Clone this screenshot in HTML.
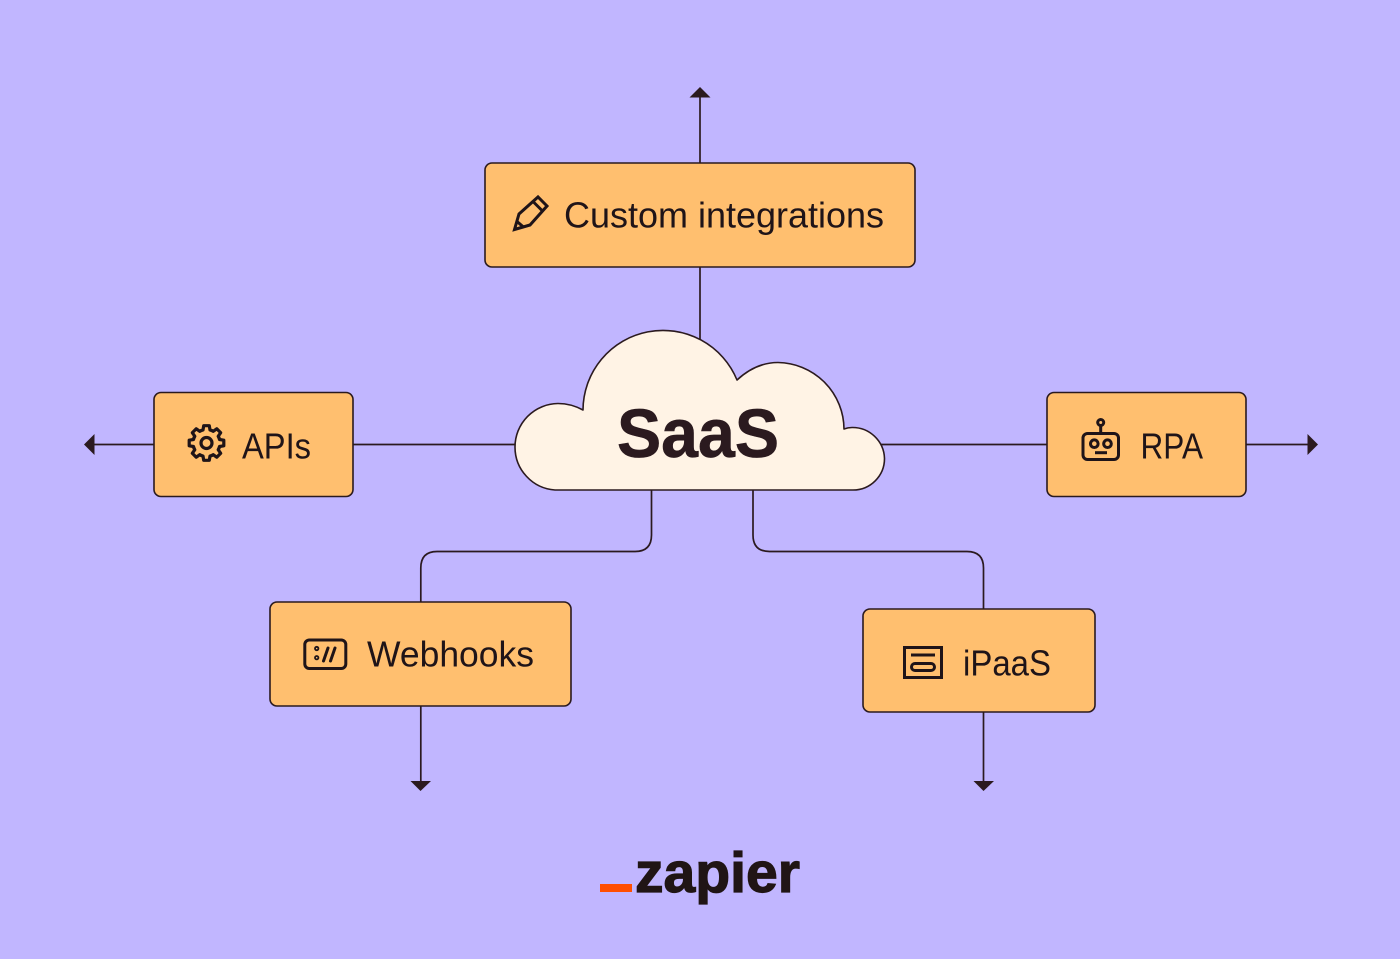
<!DOCTYPE html>
<html>
<head>
<meta charset="utf-8">
<style>
html,body{margin:0;padding:0;background:#c1b6ff;}
svg{display:block;}
text{font-family:"Liberation Sans",sans-serif;fill:#1f1418;}
</style>
</head>
<body>
<svg width="1400" height="959" viewBox="0 0 1400 959" xmlns="http://www.w3.org/2000/svg">
<rect width="1400" height="959" fill="#c1b6ff"/>

<!-- connectors -->
<g fill="none" stroke="#2b1a1f" stroke-width="1.7">
<path d="M700 95V345"/>
<path d="M93 444.5H520"/>
<path d="M880 444.5H1309"/>
<path d="M651.5 488V535Q651.5 551.5 635 551.5H437Q420.8 551.5 420.8 568V783"/>
<path d="M753 488V535Q753 551.5 769.5 551.5H967Q983.5 551.5 983.5 568V783"/>
</g>

<!-- arrowheads -->
<g fill="#2b1a1f">
<path d="M700 87L710.5 97.500H689.500Z"/>
<path d="M84 444.500L94.500 434V455Z"/>
<path d="M1318 444.500L1307.500 434V455Z"/>
<path d="M420.500 791L410.500 781H431Z"/>
<path d="M983.500 791L973.500 781H994Z"/>
</g>

<!-- boxes -->
<g fill="#ffbf6f" stroke="#2b1a1f" stroke-width="1.600">
<rect x="485" y="163" width="430" height="104" rx="7"/>
<rect x="154" y="392.500" width="199" height="104" rx="7"/>
<rect x="1047" y="392.500" width="199" height="104" rx="7"/>
<rect x="270" y="602" width="301" height="104" rx="7"/>
<rect x="863" y="609" width="232" height="103" rx="7"/>
</g>

<!-- cloud -->
<path d="M555 490H853A31.500 31.500 0 0 0 884.500 458.500A32 32 0 0 0 852 427.500Q848 427.500 844 429A67 67 0 0 0 778 362.500Q756 362.500 737 380A80 80 0 0 0 583 410Q571 403.500 558 403.500A43.500 43.500 0 0 0 515 447A43 43 0 0 0 555 490Z" fill="#fff3e5" stroke="#2b1a1f" stroke-width="1.600" stroke-linejoin="round"/>

<!-- labels -->
<text x="617" y="457" font-size="69" font-weight="700" textLength="162" lengthAdjust="spacingAndGlyphs" style="fill:#2b1a1f;stroke:#2b1a1f;stroke-width:0.700">SaaS</text>
<text x="564" y="227.500" font-size="36" textLength="320" lengthAdjust="spacingAndGlyphs">Custom integrations</text>
<text x="242" y="458.500" font-size="36" textLength="69" lengthAdjust="spacingAndGlyphs">APIs</text>
<text x="1140.500" y="458.500" font-size="36" textLength="62.500" lengthAdjust="spacingAndGlyphs">RPA</text>
<text x="367" y="666.500" font-size="36" textLength="167" lengthAdjust="spacingAndGlyphs">Webhooks</text>
<text x="963" y="675.500" font-size="36" textLength="88" lengthAdjust="spacingAndGlyphs">iPaaS</text>

<!-- pencil icon -->
<g fill="none" stroke="#1f1418" stroke-width="3" stroke-linejoin="miter">
<path d="M514.500 229.500L519 214L538 197L547 206L530 225Z"/>
<path d="M533 201.500L542.500 211"/>
<path d="M517 221.500L524 227.500"/>
</g>

<!-- gear icon -->
<g transform="translate(206.500 443)" fill="none" stroke="#1f1418" stroke-width="3.200" stroke-linejoin="round" stroke-linecap="round">
<circle r="5.500"/>
<path d="M-5.200 -12.500L-3.500 -13L-2.800 -17.300L2.800 -17.300L3.500 -13L5.200 -12.500"/>
<path transform="rotate(45)" d="M-5.200 -12.500L-3.500 -13L-2.800 -17.300L2.800 -17.300L3.500 -13L5.200 -12.500"/>
<path transform="rotate(90)" d="M-5.200 -12.500L-3.500 -13L-2.800 -17.300L2.800 -17.300L3.500 -13L5.200 -12.500"/>
<path transform="rotate(135)" d="M-5.200 -12.500L-3.500 -13L-2.800 -17.300L2.800 -17.300L3.500 -13L5.200 -12.500"/>
<path transform="rotate(180)" d="M-5.200 -12.500L-3.500 -13L-2.800 -17.300L2.800 -17.300L3.500 -13L5.200 -12.500"/>
<path transform="rotate(225)" d="M-5.200 -12.500L-3.500 -13L-2.800 -17.300L2.800 -17.300L3.500 -13L5.200 -12.500"/>
<path transform="rotate(270)" d="M-5.200 -12.500L-3.500 -13L-2.800 -17.300L2.800 -17.300L3.500 -13L5.200 -12.500"/>
<path transform="rotate(315)" d="M-5.200 -12.500L-3.500 -13L-2.800 -17.300L2.800 -17.300L3.500 -13L5.200 -12.500"/>
</g>

<!-- robot icon -->
<g fill="none" stroke="#1f1418" stroke-width="3">
<rect x="1083" y="433.500" width="35.500" height="26" rx="4.500"/>
<circle cx="1100.700" cy="422.500" r="3"/>
<path d="M1100.700 425.500V433.500"/>
<circle cx="1094.300" cy="443.700" r="3.800"/>
<circle cx="1107.500" cy="443.700" r="3.800"/>
<path d="M1095 452.700H1107"/>
</g>

<!-- webhooks icon -->
<g fill="none" stroke="#1f1418" stroke-width="3">
<rect x="304.800" y="640" width="41" height="28.500" rx="4.500"/>
<circle cx="316.700" cy="648.500" r="1.700" stroke-width="1.800"/>
<circle cx="316.700" cy="657.700" r="1.700" stroke-width="1.800"/>
<path d="M323.500 661L328 648" stroke-linecap="round"/>
<path d="M330.500 661L335 648" stroke-linecap="round"/>
</g>

<!-- iPaaS icon -->
<g fill="none" stroke="#1f1418" stroke-width="3">
<rect x="904.500" y="647.500" width="37" height="30"/>
<path d="M911 655H935"/>
<rect x="911.500" y="663.500" width="23" height="7" rx="3.500"/>
</g>

<!-- zapier logo -->
<rect x="600" y="884" width="32" height="8" fill="#ff4f00"/>
<text x="635" y="892" font-size="57" font-weight="700" textLength="165" lengthAdjust="spacingAndGlyphs" style="fill:#201515;stroke:#201515;stroke-width:1.200">zapier</text>
</svg>
</body>
</html>
